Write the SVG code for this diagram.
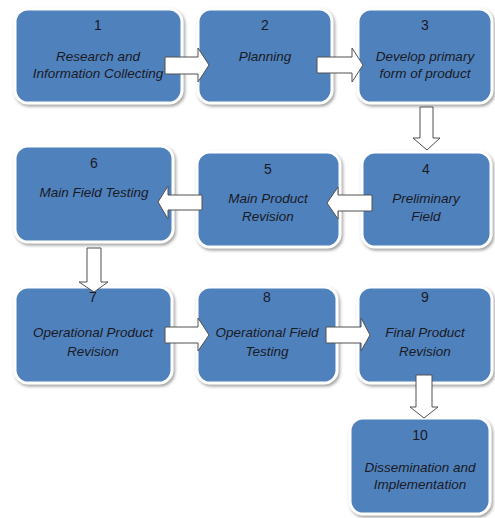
<svg xmlns="http://www.w3.org/2000/svg" width="495" height="518" viewBox="0 0 495 518">
<defs>
<filter id="sh" x="-10%" y="-10%" width="125%" height="125%">
<feDropShadow dx="1.5" dy="2" stdDeviation="1.5" flood-color="#8a8a8a" flood-opacity="0.8"/>
</filter>
</defs>
<style>
.box{fill:#4f81bd;stroke:#ffffff;stroke-width:3;filter:url(#sh)}
.num{font-family:"Liberation Sans",Arial,sans-serif;font-size:14px;fill:#1a1a24;text-anchor:middle}
.lbl{font-family:"Liberation Sans",Arial,sans-serif;font-size:13.5px;font-style:italic;fill:#1a1a24;text-anchor:middle}
.arr{fill:#ffffff;stroke:#505050;stroke-width:1}
</style>
<rect width="495" height="518" fill="#ffffff"/>
<g id="n1"><rect class="box" x="15" y="9" width="167" height="94" rx="13"/><text class="num" x="98" y="30">1</text><text class="lbl" x="98" y="61">Research and</text><text class="lbl" x="98" y="78">Information Collecting</text></g>
<g id="n2"><rect class="box" x="198" y="9" width="134" height="94" rx="13"/><text class="num" x="265" y="30">2</text><text class="lbl" x="265" y="61">Planning</text></g>
<g id="n3"><rect class="box" x="358" y="9" width="134" height="94" rx="13"/><text class="num" x="425" y="30">3</text><text class="lbl" x="425" y="61">Develop primary</text><text class="lbl" x="425" y="78">form of product</text></g>
<g id="n4"><rect class="box" x="362" y="152" width="129" height="95" rx="13"/><text class="num" x="426" y="174">4</text><text class="lbl" x="426" y="203">Preliminary</text><text class="lbl" x="426" y="221">Field</text></g>
<g id="n5"><rect class="box" x="197" y="152" width="143" height="95" rx="13"/><text class="num" x="268" y="174">5</text><text class="lbl" x="268" y="203">Main Product</text><text class="lbl" x="268" y="221">Revision</text></g>
<g id="n6"><rect class="box" x="15" y="146" width="158" height="96" rx="13"/><text class="num" x="94" y="168">6</text><text class="lbl" x="94" y="197">Main Field Testing</text></g>
<g id="n7"><rect class="box" x="15" y="287" width="157" height="96" rx="13"/><text class="num" x="93" y="302">7</text><text class="lbl" x="93" y="337">Operational Product</text><text class="lbl" x="93" y="356">Revision</text></g>
<g id="n8"><rect class="box" x="197" y="287" width="140" height="96" rx="13"/><text class="num" x="267" y="302">8</text><text class="lbl" x="267" y="337">Operational Field</text><text class="lbl" x="267" y="356">Testing</text></g>
<g id="n9"><rect class="box" x="358" y="287" width="134" height="96" rx="13"/><text class="num" x="425" y="302">9</text><text class="lbl" x="425" y="337">Final Product</text><text class="lbl" x="425" y="356">Revision</text></g>
<g id="n10"><rect class="box" x="350" y="418" width="140" height="96" rx="13"/><text class="num" x="420" y="440">10</text><text class="lbl" x="420" y="472">Dissemination and</text><text class="lbl" x="420" y="489">Implementation</text></g>
<g id="connectors">
<polygon class="arr" points="165,57 198,57 198,48 209,65 198,82 198,74 165,74"/>
<polygon class="arr" points="317,57 352,57 352,48 363,65 352,82 352,73 317,73"/>
<polygon class="arr" points="420,107 433,107 433,138 440,138 427,150 413,138 420,138"/>
<polygon class="arr" points="372,195 338,195 338,187 327,203 338,219 338,211 372,211"/>
<polygon class="arr" points="202,195 168,195 168,186 158,202 168,219 168,210 202,210"/>
<polygon class="arr" points="87,248 101,248 101,282 108,282 94,292 79,282 87,282"/>
<polygon class="arr" points="165,327 198,327 198,318 209,335 198,351 198,343 165,343"/>
<polygon class="arr" points="326,327 361,327 361,318 370,335 361,351 361,343 326,343"/>
<polygon class="arr" points="416,375 432,375 432,407 438,407 424,418 410,407 416,407"/>
</g>
</svg>
